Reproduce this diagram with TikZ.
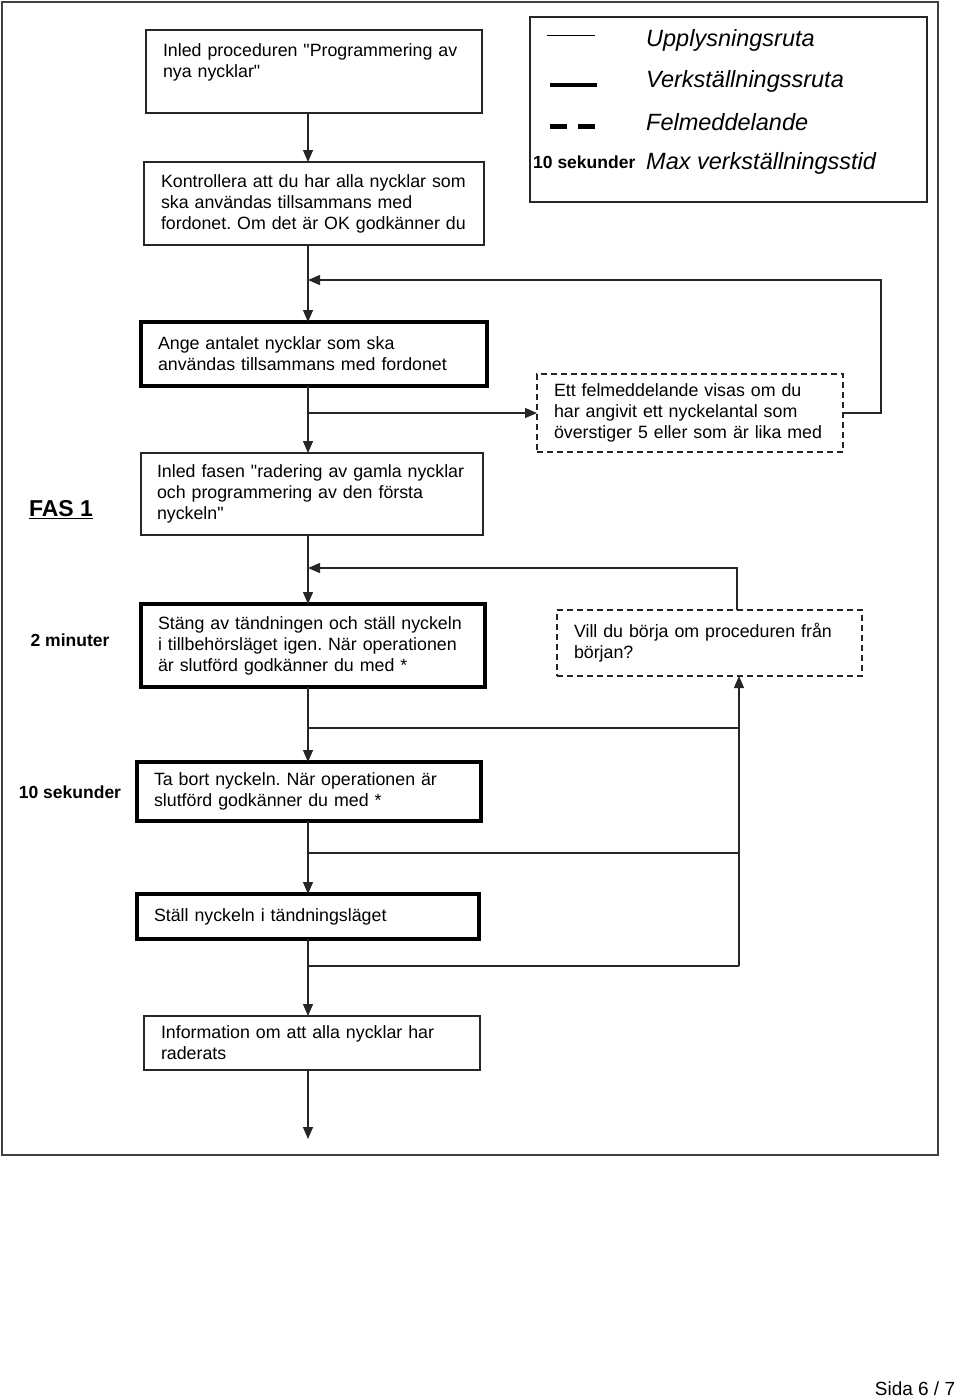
\documentclass[tikz,border=0pt]{standalone}
\usepackage{fontspec}
\setmainfont{Liberation Sans}[Ligatures=TeXOff]
\usetikzlibrary{arrows.meta, positioning}
\frenchspacing
\newcommand{\boxfont}{\fontsize{17.8}{21}\selectfont}
\newcommand{\tidfont}{\bfseries\fontsize{17.5}{21}\selectfont}
\newcommand{\legfont}{\itshape\fontsize{23.5}{27}\selectfont}
\tikzset{
    infobox/.style={draw=black!85, line width=1.2pt, anchor=north west, align=left,
        inner xsep=17pt, inner ysep=0pt, outer sep=0pt, font=\boxfont},
    execbox/.style={infobox, draw=black, line width=3.6pt},
    errbox/.style={infobox, line width=1.6pt, dash pattern=on 6pt off 4pt},
    flow/.style={draw=black!85, line width=1.3pt, ->},
    link/.style={draw=black!85, line width=1.1pt},
    tid/.style={font=\tidfont, inner sep=0pt}
}

\begin{document}
\begin{tikzpicture}[x=1pt, y=-1pt, >={Triangle[width=10pt,length=12pt]}]
    \useasboundingbox (0,0) rectangle (960,1398);
    \draw[line width=2pt, black!75] (2,2) rectangle (938,1155);

    % legend
    \node[draw=black!85, line width=2pt, anchor=north west, outer sep=0pt,
          minimum width=397pt, minimum height=185pt] (legend) at (530,17) {};
    \draw[line width=1pt] (547,35) -- (595,35);
    \draw[line width=4pt] (550,85) -- (597,85);
    \draw[line width=5pt, dash pattern=on 17pt off 11pt] (550,126) -- (597,126);
    \node[anchor=west, inner sep=0pt, font=\legfont] (leg1) at (646,40) {Upplysningsruta};
    \node[anchor=west, inner sep=0pt, font=\legfont] (leg2) at (646,81) {Verkställningssruta};
    \node[anchor=west, inner sep=0pt, font=\legfont] (leg3) at (646,122) {Felmeddelande};
    \node[anchor=west, inner sep=0pt, font=\legfont] (leg4) at (646,163) {Max verkställningsstid};
    \node[tid, anchor=west] (legtid) at (533,162) {10 sekunder};

    % boxes
    \node[infobox, minimum width=336pt, minimum height=83pt, text width=302pt] (intro) at (146,30)
        {Inled proceduren "Programmering av\\ nya nycklar"\\ \mbox{}};
    \node[infobox, minimum width=340pt, minimum height=83pt, text width=306pt] (check) at (144,162)
        {Kontrollera att du har alla nycklar som\\ ska användas tillsammans med\\ fordonet. Om det är OK godkänner du};
    \node[execbox, minimum width=346pt, minimum height=64pt, text width=312pt] (count) at (141,322)
        {Ange antalet nycklar som ska\\ användas tillsammans med fordonet};
    \node[errbox, minimum width=306pt, minimum height=78pt, text width=272pt] (err) at (537,374)
        {Ett felmeddelande visas om du\\ har angivit ett nyckelantal som\\ överstiger 5 eller som är lika med};
    \node[infobox, minimum width=342pt, minimum height=82pt, text width=310pt, inner xsep=16pt] (start) at (141,453)
        {Inled fasen "radering av gamla nycklar\\ och programmering av den första\\ nyckeln"};
    \node[execbox, minimum width=344pt, minimum height=83pt, text width=310pt] (off) at (141,604)
        {Stäng av tändningen och ställ nyckeln\\ i tillbehörsläget igen. När operationen\\ är slutförd godkänner du med *};
    \node[errbox, minimum width=305pt, minimum height=66pt, text width=271pt] (again) at (557,610)
        {Vill du börja om proceduren från\\ början?};
    \node[execbox, minimum width=344pt, minimum height=59pt, text width=310pt] (remove) at (137,762)
        {Ta bort nyckeln. När operationen är\\ slutförd godkänner du med *};
    \node[execbox, minimum width=342pt, minimum height=45pt, text width=308pt] (ign) at (137,894)
        {Ställ nyckeln i tändningsläget};
    \node[infobox, minimum width=336pt, minimum height=54pt, text width=302pt] (info) at (144,1016)
        {Information om att alla nycklar har\\ raderats};

    % side labels
    \node[tid, font=\bfseries\fontsize{23}{27}\selectfont] (fas) at (61,510) {\underline{FAS 1}};
    \node[tid] (tid2) at (70,640) {2 minuter};
    \node[tid] (tid3) at (70,792) {10 sekunder};
    \node[inner sep=0pt, font=\fontsize{19}{23}\selectfont] (sida) at (915,1389) {Sida 6 / 7};

    % connectors
    \coordinate (spine) at (308,0);
    \coordinate (loop1) at (881,280);
    \coordinate (loop2) at (737,568);
    \coordinate (up) at (739,966);
    \coordinate (fork1) at (308,728);
    \coordinate (fork2) at (308,853);
    \coordinate (fork3) at (308,966);
    \coordinate (stop) at (308,1139);

    \draw[flow] (intro.south -| spine) -- (check.north -| spine);
    \draw[flow] (check.south -| spine) -- (count.north -| spine);
    \draw[flow] (count.south -| spine) -- (start.north -| spine);
    \draw[flow] (start.south -| spine) -- (off.north -| spine);
    \draw[flow] (off.south -| spine) -- (remove.north -| spine);
    \draw[flow] (remove.south -| spine) -- (ign.north -| spine);
    \draw[flow] (ign.south -| spine) -- (info.north -| spine);
    \draw[flow] (info.south -| spine) -- (stop);

    \draw[flow] (err.west -| spine) -- (err.west);
    \draw[flow] (err.east) -| (loop1) -- (loop1 -| spine);
    \draw[flow] (again.north -| loop2) -- (loop2) -- (spine |- loop2);

    \draw[link] (fork1) -- (up |- fork1);
    \draw[link] (fork2) -- (up |- fork2);
    \draw[link] (fork3) -- (up);
    \draw[flow] (up) -- (again.south -| up);
\end{tikzpicture}
\end{document}
